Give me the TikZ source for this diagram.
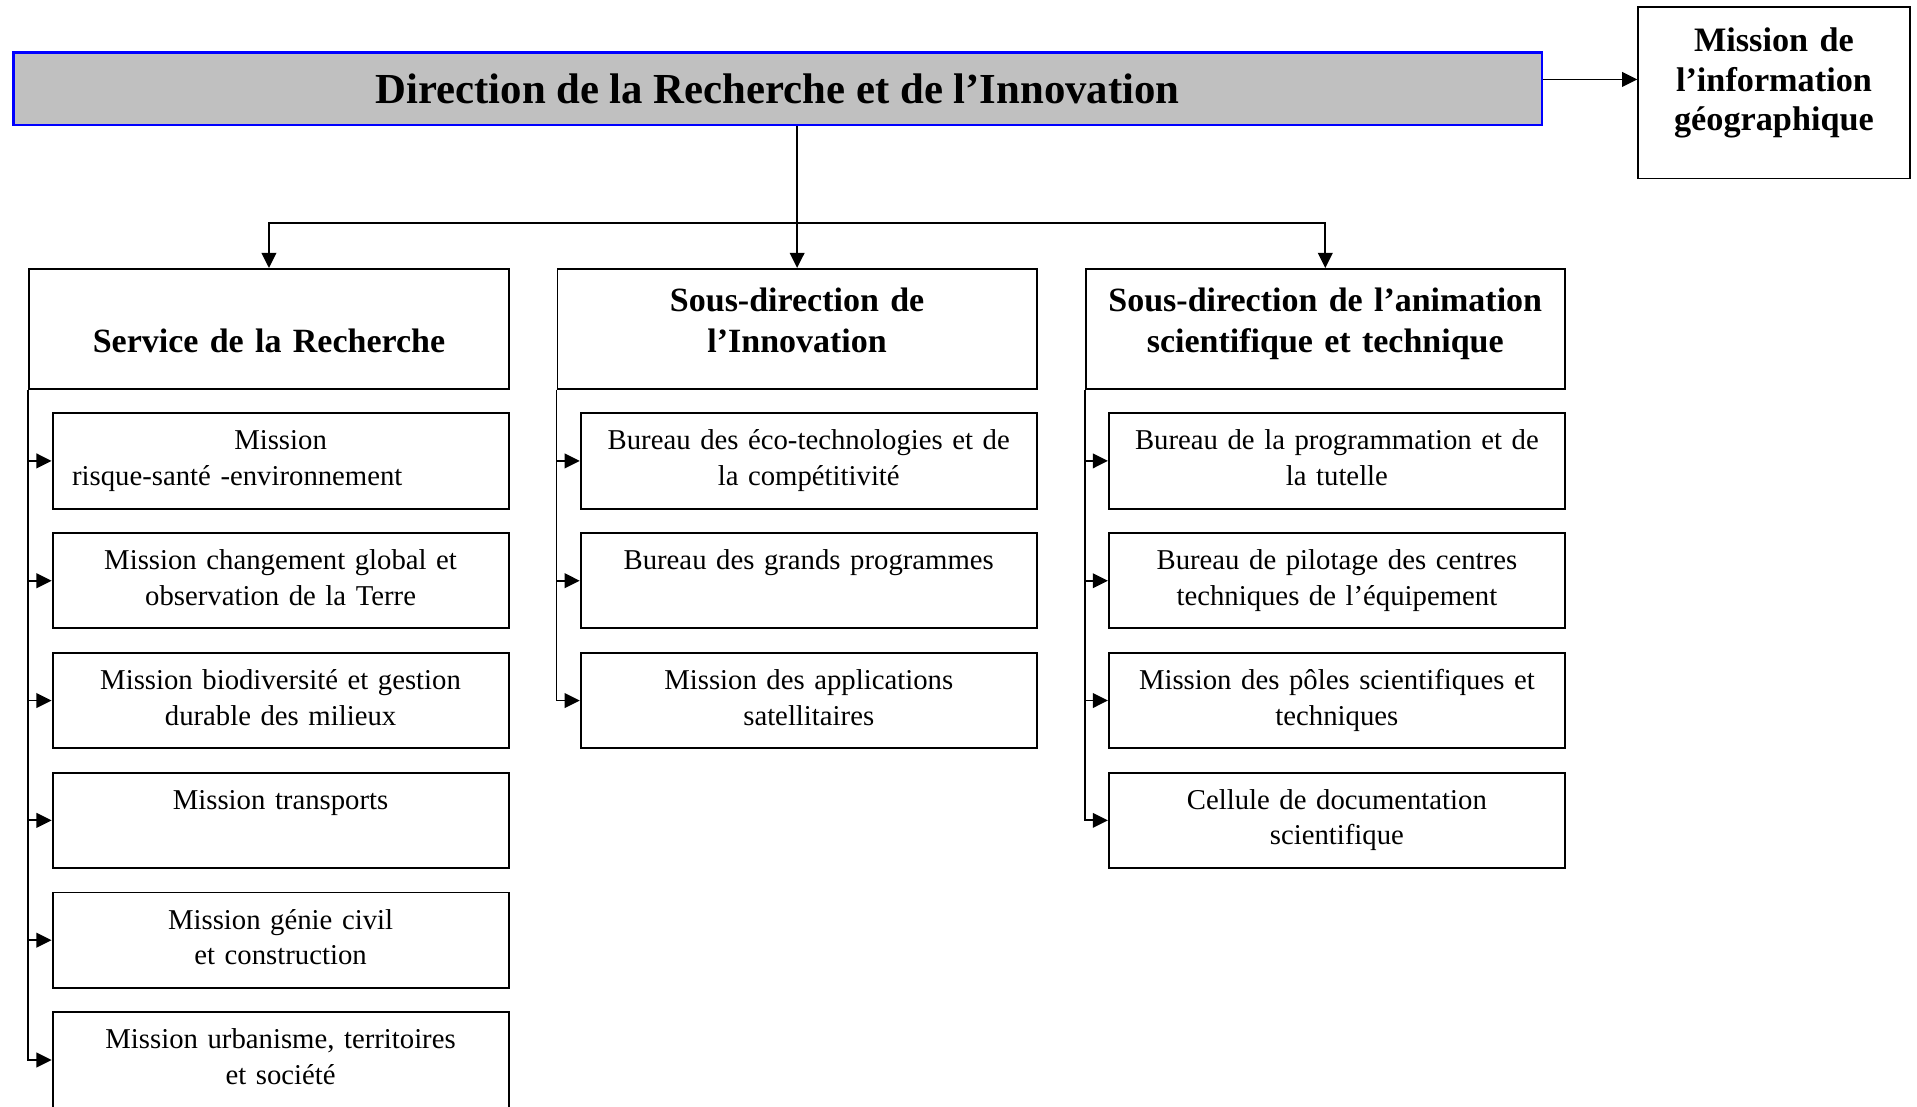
\documentclass[tikz,border=0pt]{standalone}
\usepackage{fontspec}
\setmainfont{Liberation Serif}
\usetikzlibrary{arrows.meta, calc}
\definecolor{barblue}{RGB}{0,0,255}
\definecolor{bargray}{RGB}{192,192,192}
\tikzstyle{title} = [
    rectangle,
    minimum width=625pt,
    minimum height=29.5pt,
    inner sep=0pt,
    draw=barblue,
    line width=0.9pt,
    fill=bargray,
    font=\fontsize{17.5}{20}\selectfont\bfseries
]
\tikzstyle{side} = [
    rectangle,
    align=center,
    text width=103pt,
    inner xsep=4pt,
    inner ysep=0pt,
    text height=18pt,
    text depth=52pt,
    draw=black,
    line width=0.8pt,
    font=\fontsize{14}{16.25}\selectfont\bfseries
]
\tikzstyle{head} = [
    rectangle,
    align=center,
    text width=188pt,
    inner xsep=4pt,
    inner ysep=0pt,
    text height=17.5pt,
    text depth=31.5pt,
    draw=black,
    line width=0.8pt,
    font=\fontsize{13.9}{16.5}\selectfont\bfseries
]
\tikzstyle{unit} = [
    rectangle,
    align=center,
    text width=174.5pt,
    inner xsep=6pt,
    inner ysep=0pt,
    text height=15pt,
    text depth=24pt,
    draw=black,
    line width=0.8pt,
    font=\fontsize{11.75}{14.5}\selectfont
]
\tikzstyle{arrow} = [line width=0.75pt, ->, >={Triangle[length=6.2pt,width=6pt]}]

\begin{document}
\begin{tikzpicture}[node distance=49pt]
    \useasboundingbox (0,0) rectangle (784pt,-452.5pt);

    \node (dri) [title] at (318pt,-36.25pt) {Direction de la Recherche et de l’Innovation};
    \node (mig) [side, right of=dri, xshift=358.5pt, yshift=-1.75pt] {Mission de\\ l’information\\ géographique};

    \node (sdi) [head, below of=dri, xshift=8pt, yshift=-49.25pt] {Sous-direction de\\ l’Innovation};
    \node (sre) [head, left of=sdi, xshift=-167pt] {\mbox{}\\ Service de la Recherche};
    \node (sda) [head, right of=sdi, xshift=167pt] {Sous-direction de l’animation\\ scientifique et technique};

    % Service de la Recherche
    \node (rsk) [unit, below of=sre, xshift=4.75pt, yshift=-5pt] {Mission\\ \hspace*{2pt}risque-santé -environnement\hfill\null};
    \node (cgo) [unit, below of=rsk] {Mission changement global et\\ observation de la Terre};
    \node (bio) [unit, below of=cgo] {Mission biodiversité et gestion\\ durable des milieux};
    \node (tra) [unit, below of=bio] {Mission transports};
    \node (gcc) [unit, below of=tra] {Mission génie civil\\ et construction};
    \node (urb) [unit, below of=gcc] {Mission urbanisme, territoires\\ et société};

    % Sous-direction de l'Innovation
    \node (eco) [unit, below of=sdi, xshift=4.75pt, yshift=-5pt] {Bureau des éco-technologies et de\\ la compétitivité};
    \node (gpr) [unit, below of=eco] {Bureau des grands programmes};
    \node (sat) [unit, below of=gpr] {Mission des applications\\ satellitaires};

    % Sous-direction de l'animation scientifique et technique
    \node (prg) [unit, below of=sda, xshift=4.75pt, yshift=-5pt] {Bureau de la programmation et de\\ la tutelle};
    \node (pil) [unit, below of=prg] {Bureau de pilotage des centres\\ techniques de l’équipement};
    \node (pol) [unit, below of=pil] {Mission des pôles scientifiques et\\ techniques};
    \node (doc) [unit, below of=pol] {Cellule de documentation\\ scientifique};

    \coordinate (fork) at ($(sdi.north)+(0,18.5pt)$);

    \draw [arrow] ([yshift=3.75pt]dri.east) -- ([yshift=5.5pt]mig.west);
    \draw [arrow] (dri.south -| sdi.north) -- (sdi.north);
    \draw [arrow] (fork) -| (sre.north);
    \draw [arrow] (fork) -| (sda.north);

    \draw [arrow] (sre.south west) |- (rsk.west);
    \draw [arrow] (sre.south west) |- (cgo.west);
    \draw [arrow] (sre.south west) |- (bio.west);
    \draw [arrow] (sre.south west) |- (tra.west);
    \draw [arrow] (sre.south west) |- (gcc.west);
    \draw [arrow] (sre.south west) |- (urb.west);

    \draw [arrow] (sdi.south west) |- (eco.west);
    \draw [arrow] (sdi.south west) |- (gpr.west);
    \draw [arrow] (sdi.south west) |- (sat.west);

    \draw [arrow] (sda.south west) |- (prg.west);
    \draw [arrow] (sda.south west) |- (pil.west);
    \draw [arrow] (sda.south west) |- (pol.west);
    \draw [arrow] (sda.south west) |- (doc.west);
\end{tikzpicture}
\end{document}
